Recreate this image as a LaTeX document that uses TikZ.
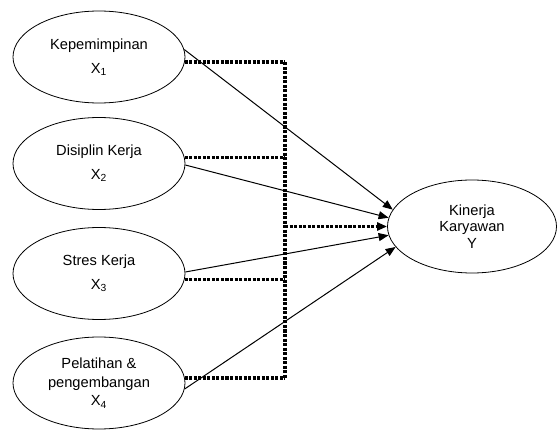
\documentclass[tikz,border=0pt]{standalone}
\usepackage{fontspec}
\setmainfont{Liberation Sans}
\usetikzlibrary{shapes.geometric,arrows.meta}
\begin{document}
\begin{tikzpicture}[x=0.75pt,y=-0.75pt,
  var/.style={ellipse, draw, line width=0.6pt, inner sep=0pt,
    minimum width=129pt, minimum height=69pt, align=center,
    font=\fontsize{11}{18}\selectfont},
  conn/.style={line width=0.75pt, -{Triangle[length=7.5pt,width=6pt]}},
  dotline/.style={line width=2.3pt, dash pattern=on 2.3pt off 1.1pt}
]
\useasboundingbox (0,0) rectangle (557,431);
\node[var] (X1) at (99,57) {Kepemimpinan\\X\textsubscript{1}};
\node[var] (X2) at (99,163.5) {Disiplin Kerja\\X\textsubscript{2}};
\node[var] (X3) at (99,273.5) {Stres Kerja\\X\textsubscript{3}};
\node[var, font=\fontsize{11}{14}\selectfont] (X4) at (99,383) {Pelatihan \&\\pengembangan\\X\textsubscript{4}};
\node[var, minimum width=126.75pt, minimum height=69.75pt, font=\fontsize{11}{12.5}\selectfont] (Y) at (472,226.5) {Kinerja\\Karyawan\\Y};
\coordinate (bus) at (285,228);
\coordinate (bt) at (285,62);
\coordinate (bb) at (285,378);
% dotted bus
\draw[dotline] (bt) -- (bb);
\draw[dotline] (X1.-4 |- bt) -- (bt);
\draw[dotline] (X2.4) -- (X2.4 -| bus);
\draw[dotline] (X3.-4) -- (X3.-4 -| bus);
\draw[dotline] (X4.4 |- bb) -- (bb);
\draw[dotline, -{Triangle[length=7.5pt,width=6pt]}] (bus |- Y.west) -- (Y.west);
% direct paths
\draw[conn] (X1.5) -- (Y.168);
\draw[conn] (X2.-1) -- (Y.174);
\draw[conn] (X3.1) -- (Y.186);
\draw[conn] (X4.-4) -- (Y.195);
\end{tikzpicture}
\end{document}
